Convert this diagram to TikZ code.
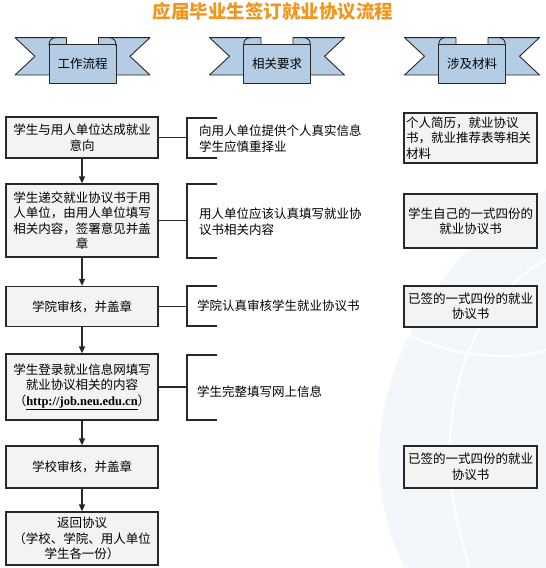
\documentclass[tikz,border=0pt]{standalone}
\usepackage{fontspec}
\setmainfont{Noto Sans CJK SC}
\newfontfamily\urlfont{Liberation Serif}
\usetikzlibrary{arrows.meta}
\definecolor{ttl}{RGB}{240,150,30}
\definecolor{ribbon}{RGB}{180,204,228}
\definecolor{boxfill}{RGB}{243,243,243}
\definecolor{edge}{RGB}{40,40,40}
\definecolor{wm}{RGB}{242,247,252}
\tikzset{
  ribbonline/.style={draw=edge, line width=0.9pt, fill=ribbon, line join=round},
  bannertext/.style={font=\fontsize{12.5}{15}\selectfont, inner sep=0pt},
  flow/.style={draw=edge, line width=1.3pt, fill=boxfill, minimum width=152pt, align=center,
    font=\fontsize{12.5}{15.5}\selectfont, inner sep=0pt},
  side/.style={draw=edge, line width=1.3pt, fill=boxfill, minimum width=133pt, align=center,
    font=\fontsize{12.5}{15.5}\selectfont, inner sep=0pt},
  note/.style={align=left, anchor=west, font=\fontsize{12.5}{15.5}\selectfont, inner sep=0pt},
  conn/.style={draw=edge, line width=1.3pt},
  flowarrow/.style={draw=edge, line width=1.3pt, -{Triangle[length=7pt,width=6pt]}},
  pics/banner/.style={code={
    \draw[ribbonline] (-67.5,37.6) -- (-16,37.6) -- (-16,75) -- (-67.5,75) -- (-47.5,56.3) -- cycle;
    \draw[ribbonline] (67.5,37.6) -- (16,37.6) -- (16,75) -- (67.5,75) -- (47.5,56.3) -- cycle;
    \draw[ribbonline] (-33.5,83.6) -- (-33.5,44.6) -- (33.5,44.6) -- (33.5,83.6) -- cycle;
    \draw[draw=edge, line width=0.9pt] (-33.5,46) .. controls (-33.5,40) and (-31,38.2) .. (-27,37.6);
    \draw[draw=edge, line width=0.9pt] (33.5,46) .. controls (33.5,40) and (31,38.2) .. (27,37.6);
    \node[bannertext] (text) at (0,64) {#1};
  }}
}
\begin{document}
\begin{tikzpicture}[x=1pt,y=-1pt]
\useasboundingbox (0,0) rectangle (546,568);
% faint watermark
\fill[wm] (546,190) .. controls (430,250) and (330,420) .. (405,568) -- (546,568) -- cycle;
\draw[white, line width=2pt] (546,260) .. controls (470,300) and (420,420) .. (470,568);
\draw[white, line width=2pt] (400,330) .. controls (450,360) and (520,360) .. (546,350);

% title
\node[font=\fontsize{18.5}{20}\selectfont\bfseries, text=ttl, inner sep=0pt] (title) at (273,11) {应届毕业生签订就业协议流程};

% banners
\pic (b1) at (82.5,0) {banner={工作流程}};
\pic (b2) at (277,0) {banner={相关要求}};
\pic (b3) at (472,0) {banner={涉及材料}};

% left flow
\node[flow, minimum height=41pt] (s1) at (82,137.5) {学生与用人单位达成就业\\意向};
\node[flow, minimum height=73pt] (s2) at (82,220.5) {学生递交就业协议书于用\\人单位，由用人单位填写\\相关内容，签署意见并盖\\章};
\node[flow, minimum height=40pt] (s3) at (82,306.5) {学院审核，并盖章};
\node[flow, minimum height=66pt] (s4) at (82,387) {学生登录就业信息网填写\\就业协议相关的内容\\（{\urlfont\bfseries\underline{http://job.neu.edu.cn}}）};
\node[flow, minimum height=42pt] (s5) at (82,467) {学校审核，并盖章};
\node[flow, minimum height=53pt] (s6) at (82,538.5) {返回协议\\（学校、学院、用人单位\\学生各一份）};

\draw[flowarrow] (s1) -- (s2);
\draw[flowarrow] (s2) -- (s3);
\draw[flowarrow] (s3) -- (s4);
\draw[flowarrow] (s4) -- (s5);
\draw[flowarrow] (s5) -- (s6);

% brackets
\coordinate (k1) at (187,137.5);
\coordinate (k2) at (187,220.5);
\coordinate (k3) at (187,306.5);
\coordinate (k4) at (187,387);
\draw[conn] (s1.east) -- (k1);
\draw[conn] (s2.east) -- (k2);
\draw[conn] (s3.east) -- (k3);
\draw[conn] (s4.east) -- (k4);
\draw[conn] (217,118) -- (187,118) -- (187,158) -- (217,158);
\draw[conn] (217,184) -- (187,184) -- (187,258) -- (217,258);
\draw[conn] (217,286) -- (187,286) -- (187,326) -- (217,326);
\draw[conn] (217,355) -- (187,355) -- (187,420) -- (217,420);

\node[note] (t1) at (199,138.5) {向用人单位提供个人真实信息\\学生应慎重择业};
\node[note] (t2) at (199,221.5) {用人单位应该认真填写就业协\\议书相关内容};
\node[note] (t3) at (197,306) {学院认真审核学生就业协议书};
\node[note] (t4) at (197,392) {学生完整填写网上信息};

% right materials
\node[side, minimum height=50pt, align=left, text width=129pt] (r1) at (470.5,138) {个人简历，就业协议\\书，就业推荐表等相关\\材料};
\node[side, minimum height=54pt] (r2) at (470.5,221) {学生自己的一式四份的\\就业协议书};
\node[side, minimum height=41pt] (r3) at (470.5,306.5) {已签的一式四份的就业\\协议书};
\node[side, minimum height=42pt] (r4) at (470.5,467) {已签的一式四份的就业\\协议书};
\end{tikzpicture}
\end{document}
